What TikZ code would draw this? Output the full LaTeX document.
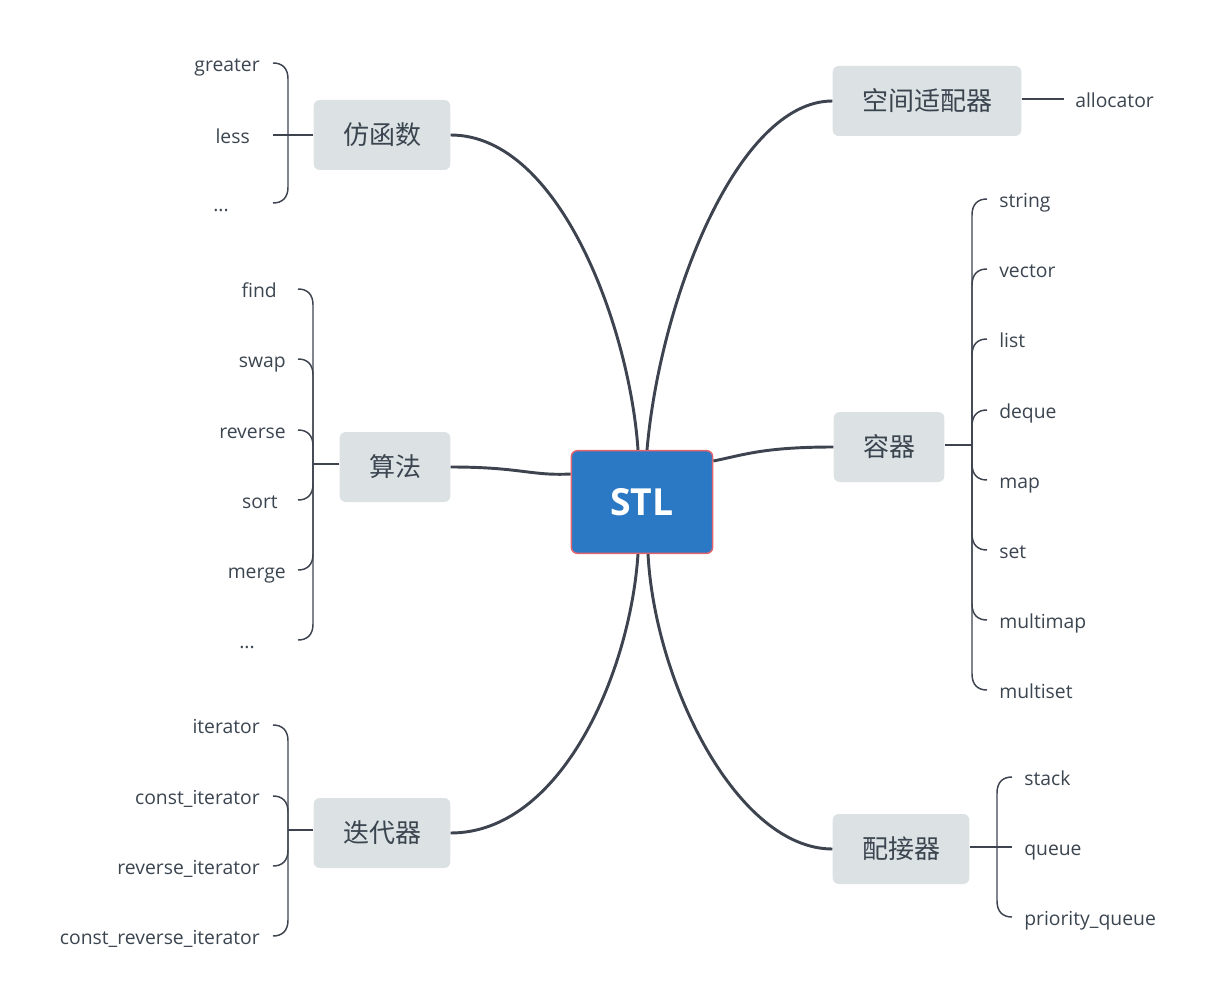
\documentclass[tikz,border=0pt]{standalone}
\usepackage{fontspec}
\setmainfont{Open Sans}
\newfontfamily\cjk{Noto Sans CJK SC}
\usetikzlibrary{calc}
\definecolor{linecolor}{HTML}{3D4450}
\definecolor{textcolor}{HTML}{3B4550}
\definecolor{topiccolor}{HTML}{DCE2E4}
\definecolor{rootcolor}{HTML}{2B78C4}
\definecolor{rootborder}{HTML}{E4646E}

\begin{document}
\begin{tikzpicture}[
    x=0.75pt, y=-0.75pt,
    rootbox/.style={rectangle, draw=rootborder, line width=1.1pt, fill=rootcolor, rounded corners=4.5pt, minimum width=106pt, minimum height=77pt, text=white, font=\bfseries\fontsize{28}{32}\selectfont},
    topicbox/.style={rectangle, fill=topiccolor, rounded corners=4.5pt, minimum height=52.5pt, inner xsep=22pt, text=textcolor, font=\cjk\fontsize{19.5}{22}\selectfont},
    leafl/.style={anchor=east, inner sep=0pt, text height=13pt, text depth=0pt, text=textcolor, font=\fontsize{14.5}{17}\selectfont},
    leafr/.style={leafl, anchor=west},
    mainline/.style={draw=linecolor, line width=2.2pt},
    branch/.style={draw=linecolor, line width=1.1pt}
]
\useasboundingbox (0,0) rectangle (1216,1005);

% root and main topics
\node[rootbox] (stl) at (642,502) {STL};
\node[topicbox] (F) at (382,135) {仿函数};
\node[topicbox] (A) at (395,467) {算法};
\node[topicbox] (I) at (382,833) {迭代器};
\node[topicbox] (S) at (927,101) {空间适配器};
\node[topicbox] (C) at (889,447) {容器};
\node[topicbox] (P) at (901,849) {配接器};

\draw[mainline] (F.east) .. controls +(110,0) and ($(stl.north)+(-12,-120)$) .. ($(stl.north)+(-4,0)$);
\draw[mainline] (S.west) .. controls +(-95,0) and ($(stl.north)+(18,-150)$) .. ($(stl.north)+(5,0)$);
\draw[mainline] (A.east) .. controls +(70,0) and ($(stl.west)+(-40,-26)$) .. ($(stl.west)+(0,-28)$);
\draw[mainline] (C.west) .. controls +(-70,0) and ($(stl.east)+(30,-47)$) .. ($(stl.east)+(0,-41)$);
\draw[mainline] (I.east) .. controls +(110,0) and ($(stl.south)+(-12,120)$) .. ($(stl.south)+(-4,0)$);
\draw[mainline] (P.west) .. controls +(-95,0) and ($(stl.south)+(13,130)$) .. ($(stl.south)+(6,0)$);

% junctions
\coordinate (jF) at (288,135);
\coordinate (jA) at (313,464);
\coordinate (jI) at (288,830);
\coordinate (jC) at (972,445);
\coordinate (jP) at (997,847);

% leaves, left
\node[leafl] (fl1) at (260,63) {greater};
\node[leafl] (fl2) at (250,135) {less};
\node[leafl] (fl3) at (229,203) {...};

\node[leafl] (al1) at (277,289) {find};
\node[leafl] (al2) at (286,359) {swap};
\node[leafl] (al3) at (286,430) {reverse};
\node[leafl] (al4) at (278,500) {sort};
\node[leafl] (al5) at (286,570) {merge};
\node[leafl] (al6) at (255,640) {...};

\node[leafl] (il1) at (260,725) {iterator};
\node[leafl] (il2) at (260,796) {const\_iterator};
\node[leafl] (il3) at (260,866) {reverse\_iterator};
\node[leafl] (il4) at (260,936) {const\_reverse\_iterator};

% leaves, right
\node[leafr] (sl1) at (1075,99) {allocator};

\node[leafr] (cl1) at (999,199) {string};
\node[leafr] (cl2) at (999,269) {vector};
\node[leafr] (cl3) at (999,339) {list};
\node[leafr] (cl4) at (999,410) {deque};
\node[leafr] (cl5) at (999,480) {map};
\node[leafr] (cl6) at (999,550) {set};
\node[leafr] (cl7) at (999,620) {multimap};
\node[leafr] (cl8) at (999,690) {multiset};

\node[leafr] (pl1) at (1024,777) {stack};
\node[leafr] (pl2) at (1024,847) {queue};
\node[leafr] (pl3) at (1024,917) {priority\_queue};

% branches
\draw[branch] (F.west) -- ($(jF)+(-15,0)$);
\foreach \l/\s/\t in {fl1/16/5, fl3/-16/-5}
  \draw[branch] (jF) -- ($(\l.east -| jF)+(0,\s)$) .. controls ($(\l.east -| jF)+(0,\t)$) and ($(\l.east -| jF)+(-6,0)$) .. ($(\l.east -| jF)+(-15,0)$);

\draw[branch] (jA -| A.west) -- (jA);
\foreach \l/\s/\t in {al1/16/5, al2/16/5, al3/16/5, al4/-16/-5, al5/-16/-5, al6/-16/-5}
  \draw[branch] (jA) -- ($(\l.east -| jA)+(0,\s)$) .. controls ($(\l.east -| jA)+(0,\t)$) and ($(\l.east -| jA)+(-6,0)$) .. ($(\l.east -| jA)+(-15,0)$);

\draw[branch] (jI -| I.west) -- (jI);
\foreach \l/\s/\t in {il1/16/5, il2/16/5, il3/-16/-5, il4/-16/-5}
  \draw[branch] (jI) -- ($(\l.east -| jI)+(0,\s)$) .. controls ($(\l.east -| jI)+(0,\t)$) and ($(\l.east -| jI)+(-6,0)$) .. ($(\l.east -| jI)+(-15,0)$);

\draw[branch] ($(S.east)+(0,-2)$) -- ($(sl1.west)+(-11,0)$);

\draw[branch] (jC -| C.east) -- (jC);
\foreach \l/\s/\t in {cl1/16/5, cl2/16/5, cl3/16/5, cl4/16/5, cl5/-16/-5, cl6/-16/-5, cl7/-16/-5, cl8/-16/-5}
  \draw[branch] (jC) -- ($(\l.west -| jC)+(0,\s)$) .. controls ($(\l.west -| jC)+(0,\t)$) and ($(\l.west -| jC)+(6,0)$) .. ($(\l.west -| jC)+(15,0)$);

\draw[branch] (jP -| P.east) -- ($(jP)+(15,0)$);
\foreach \l/\s/\t in {pl1/16/5, pl3/-16/-5}
  \draw[branch] (jP) -- ($(\l.west -| jP)+(0,\s)$) .. controls ($(\l.west -| jP)+(0,\t)$) and ($(\l.west -| jP)+(6,0)$) .. ($(\l.west -| jP)+(15,0)$);

\end{tikzpicture}
\end{document}
